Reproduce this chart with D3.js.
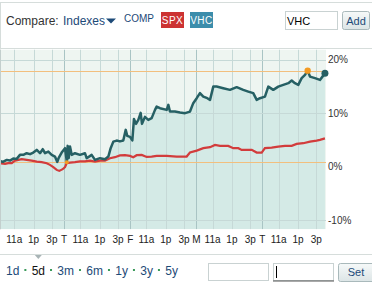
<!DOCTYPE html>
<html>
<head>
<meta charset="utf-8">
<script src="https://cdn.jsdelivr.net/npm/d3@7"></script>
<style>
body { margin: 0; background: #fff; overflow: hidden; }
svg { display: block; font-family: "Liberation Sans", Arial, sans-serif; }
</style>
</head>
<body>
<script>
// data: hours of trading since first open, % change
const dayLabels = ["", "T", "F", "M", "T"]
const hourTicks = [1.6, 3.5, 5.3]
const hourLabels = ["11a", "1p", "3p"]
const pctTicks = [20, 10, 0, -10]
const pctLabels = ["20%", "10%", "0%", "-10%"]

const vhcHours = [0.1, 0.49, 0.86, 1.18, 1.5, 1.84, 2.16, 2.49, 2.82, 3.15, 3.47, 3.81, 4.13, 4.4, 4.62, 4.95,
    5.28, 5.6, 5.83, 5.97, 6.26, 6.59, 6.77, 6.85, 6.95, 7.08, 7.25, 7.57, 8.06, 8.55, 8.72, 9.21, 9.54,
    10.03, 10.52, 10.85, 11.08, 11.34, 11.67, 11.99, 12.32, 12.56, 12.71, 12.98, 13.21, 13.37, 13.57, 13.8,
    14.03, 14.16, 14.45, 14.78, 15.11, 15.44, 15.6, 15.93, 16.59, 16.75, 16.91, 17.4, 17.9, 18.39, 18.88,
    19.2, 19.54, 19.86, 20.19, 20.58, 20.85, 21.17, 21.5, 22.15, 22.81, 23.47, 24.12, 24.61, 25.1, 25.44,
    25.76, 26.25, 26.58, 27.07, 27.56, 28.05, 28.55, 28.88, 29.2, 29.53, 29.86, 30.19, 30.45, 30.68, 31.17,
    31.66, 31.96, 32.15]
const vhcPct = [1.08, 0.9, 1.27, 1.14, 1.51, 1.46, 2.21, 2.21, 2.52, 2.34, 2.64, 3.14, 2.52, 3.27, 2.52, 2.82,
    2.21, 1.89, 0.9, 1.64, 2.64, 3.46, 0.84, 3.89, 1.6, 3.76, 2.21, 2.52, 2.21, 2.52, 1.59, 2.21, 1.27,
    1.59, 1.4, 1.89, 3.46, 4.69, 4.88, 4.73, 4.88, 6.88, 5.76, 5.57, 4.92, 8.93, 8.0, 8.75,
    10.06, 8.0, 9.31, 8.75, 9.07, 10.62, 11.23, 10.93, 10.62, 11.55, 10.3, 10.3, 10.11, 10.0, 10.3,
    11.87, 12.8, 13.74, 13.1, 12.8, 12.49, 14.97, 14.97, 14.67, 14.36, 14.86, 14.36, 14.04, 13.74, 12.49,
    12.8, 13.1, 14.97, 14.36, 14.97, 15.29, 15.61, 16.09, 15.61, 15.29, 16.54, 17.16, 17.95, 16.84, 16.54,
    16.22, 16.97, 17.48]

const spxHours = [0.1, 0.69, 1.01, 1.35, 1.67, 2.0, 2.33, 2.82, 3.31, 3.81, 4.3, 4.79, 5.11, 5.44, 5.77, 6.03,
    6.36, 6.59, 6.75, 7.08, 7.57, 8.06, 8.55, 9.05, 9.54, 10.03, 10.52, 11.01, 11.5, 11.99, 12.49, 12.98,
    13.3, 13.64, 14.13, 14.62, 15.11, 15.6, 16.25, 16.59, 17.57, 18.55, 18.88, 19.54, 20.19, 20.85, 21.34,
    21.83, 22.64, 23.14, 23.63, 23.96, 24.45, 24.95, 25.44, 25.93, 26.25, 26.91, 27.56, 28.22, 28.88, 29.37,
    30.02, 30.68, 31.33, 31.66, 32.15]
const spxPct = [0.65, 0.52, 0.65, 0.65, 1.14, 1.27, 1.4, 1.27, 1.14, 0.95, 0.84, 0.65, 0.34, -0.09, -0.6, -0.79,
    -0.47, -0.09, 0.65, 0.77, 0.84, 0.99, 0.99, 1.14, 0.95, 1.14, 1.14, 1.59, 1.78, 2.11, 2.15, 2.02,
    1.78, 2.15, 2.21, 1.83, 1.89, 2.02, 2.02, 2.02, 1.89, 1.89, 2.64, 3.01, 3.46, 3.64, 4.07,
    3.89, 3.89, 3.46, 3.46, 3.14, 3.14, 3.14, 2.64, 2.64, 3.46, 3.57, 3.76, 3.89, 3.89, 4.26,
    4.39, 4.69, 4.88, 5.01, 5.29]

const periods = ["1d", "5d", "3m", "6m", "1y", "3y", "5y"]
const activePeriod = "5d"

const vhc = vhcHours.map((h, i) => [h, vhcPct[i]])
const spx = spxHours.map((h, i) => [h, spxPct[i]])

const W = 372, H = 282
const plot = { left: 1, right: 326, top: 49.5, bottom: 229.3 }

const svg = d3.select("body").append("svg")
    .attr("width", W)
    .attr("height", H)

// Header bar
svg.append("rect")
    .attr("x", 0.5).attr("y", 2.5)
    .attr("width", W + 2).attr("height", 46)
    .attr("fill", "#fff").attr("stroke", "#d6dddb")

svg.append("text").attr("x", 6).attr("y", 25)
    .style("font-size", "12px").attr("fill", "#333")
    .text("Compare:")
svg.append("text").attr("x", 63).attr("y", 25)
    .style("font-size", "12px").attr("fill", "#1d4a78")
    .text("Indexes")
svg.append("path").attr("d", "M106,18.5L116,18.5L111,23.5Z").attr("fill", "#1d4a78")

svg.append("text").attr("x", 124).attr("y", 22)
    .style("font-size", "10px").attr("fill", "#1d4a78")
    .text("COMP")

const badges = [["SPX", 161, "#cc3333"], ["VHC", 190, "#3c8dab"]]
badges.forEach(b => {
    svg.append("rect").attr("x", b[1]).attr("y", 12).attr("width", 23).attr("height", 16).attr("fill", b[2])
    svg.append("text").attr("x", b[1] + 11.5).attr("y", 24)
        .attr("text-anchor", "middle")
        .style("font-size", "10px").style("letter-spacing", "0.5px").attr("fill", "#fff")
        .text(b[0])
})

svg.append("rect").attr("x", 285.5).attr("y", 11.5).attr("width", 52).attr("height", 18)
    .attr("fill", "#fff").attr("stroke", "#c9d2d2")
svg.append("text").attr("x", 287).attr("y", 24.5)
    .style("font-size", "11px").attr("fill", "#000").text("VHC")

const grad = svg.append("defs").append("linearGradient")
    .attr("id", "btn").attr("x1", 0).attr("x2", 0).attr("y1", 0).attr("y2", 1)
grad.append("stop").attr("offset", "0").attr("stop-color", "#f6f9f9")
grad.append("stop").attr("offset", "1").attr("stop-color", "#dce5e6")

svg.append("rect").attr("x", 342.5).attr("y", 11.5).attr("width", 27).attr("height", 18).attr("rx", 2)
    .attr("fill", "url(#btn)").attr("stroke", "#a9b9bb")
svg.append("text").attr("x", 356).attr("y", 24.5).attr("text-anchor", "middle")
    .style("font-size", "11px").attr("fill", "#1d4a78").text("Add")

// Scales
const x = d3.scaleLinear().domain([0, 32.5]).range([-2, 328.5])
const y = d3.scaleLinear().domain([-11.7, 21.9]).range([plot.bottom, plot.top])

svg.select("defs").append("clipPath").attr("id", "clip")
    .append("rect")
    .attr("x", plot.left).attr("y", plot.top)
    .attr("width", plot.right - plot.left).attr("height", plot.bottom - plot.top)

const chart = svg.append("g").attr("clip-path", "url(#clip)")

chart.append("rect")
    .attr("x", plot.left).attr("y", plot.top)
    .attr("width", plot.right - plot.left).attr("height", plot.bottom - plot.top)
    .attr("fill", "#eef5f1")

chart.append("path")
    .datum(vhc)
    .attr("fill", "#d4eae6")
    .attr("d", d3.area().x(d => x(d[0])).y0(plot.bottom).y1(d => y(d[1])))

// grid
const hourPos = []
const dayPos = []
dayLabels.forEach((lab, d) => {
    dayPos.push({ h: d * 6.5, label: lab })
    hourTicks.forEach((t, i) => hourPos.push({ h: d * 6.5 + t, label: hourLabels[i] }))
})

chart.selectAll(".hgrid")
    .data(hourPos)
    .enter().append("line")
    .attr("x1", d => Math.round(x(d.h)) + 0.5).attr("x2", d => Math.round(x(d.h)) + 0.5)
    .attr("y1", plot.top).attr("y2", plot.bottom)
    .attr("stroke", "#c6d9d7").attr("stroke-width", 1)

chart.selectAll(".dgrid")
    .data(dayPos.filter(d => d.label))
    .enter().append("line")
    .attr("x1", d => Math.round(x(d.h)) + 0.5).attr("x2", d => Math.round(x(d.h)) + 0.5)
    .attr("y1", plot.top).attr("y2", plot.bottom)
    .attr("stroke", "#a9c4c4").attr("stroke-width", 1)

chart.selectAll(".ygrid")
    .data(pctTicks.filter(t => t !== 0))
    .enter().append("line")
    .attr("x1", plot.left).attr("x2", plot.right)
    .attr("y1", d => Math.round(y(d)) + 0.5).attr("y2", d => Math.round(y(d)) + 0.5)
    .attr("stroke", "#c6d9d7")

// high / low lines of VHC
const hi = d3.max(vhcPct), lo = d3.min(vhcPct)
chart.selectAll(".ref")
    .data([hi, lo])
    .enter().append("line")
    .attr("x1", plot.left).attr("x2", plot.right)
    .attr("y1", d => Math.round(y(d)) + 0.5).attr("y2", d => Math.round(y(d)) + 0.5)
    .attr("stroke", "#f2bf7e")

const line = d3.line().x(d => x(d[0])).y(d => y(d[1]))

chart.append("path").datum(spx)
    .attr("fill", "none").attr("stroke", "#d23c3c").attr("stroke-width", 2.2)
    .attr("d", line)

chart.append("path").datum(vhc)
    .attr("fill", "none").attr("stroke", "#266064").attr("stroke-width", 2.5)
    .attr("stroke-linejoin", "round")
    .attr("d", line)

// left edge of plot
svg.append("line").attr("x1", 0.5).attr("x2", 0.5).attr("y1", plot.top).attr("y2", plot.bottom)
    .attr("stroke", "#c3cfcd")

// markers
const hiPt = vhc[vhcPct.indexOf(hi)]
const loPt = vhc[vhcPct.indexOf(lo)]
svg.append("circle").attr("cx", x(hiPt[0])).attr("cy", y(hiPt[1])).attr("r", 3.2).attr("fill", "#f39a22")
svg.append("circle").attr("cx", x(loPt[0])).attr("cy", y(loPt[1])).attr("r", 2).attr("fill", "#f39a22")
const last = vhc[vhc.length - 1]
svg.append("circle").attr("cx", x(last[0])).attr("cy", y(last[1])).attr("r", 3.5).attr("fill", "#266064")

// y labels
svg.selectAll(".ylab")
    .data(pctTicks)
    .enter().append("text")
    .attr("x", 328).attr("y", d => y(d)).attr("dy", "0.35em")
    .style("font-size", "10px").attr("fill", "#333")
    .text((d, i) => pctLabels[i])

// x labels
svg.selectAll(".xlab")
    .data(hourPos.concat(dayPos.filter(d => d.label)).filter(d => x(d.h) < plot.right))
    .enter().append("text")
    .attr("x", d => x(d.h)).attr("y", 243)
    .attr("text-anchor", "middle")
    .style("font-size", "10px").attr("fill", "#222")
    .text(d => d.label)

// bottom bar
svg.append("line").attr("x1", 0).attr("x2", W).attr("y1", 254.5).attr("y2", 254.5).attr("stroke", "#d6dddb")

let px = 6
periods.forEach((p, i) => {
    const t = svg.append("text").attr("x", px).attr("y", 275)
        .style("font-size", "12px")
        .attr("fill", p === activePeriod ? "#111" : "#1d4a78")
        .text(p)
    const w = t.node().getComputedTextLength()
    if (p === activePeriod) {
        svg.append("path")
            .attr("d", `M${px + w / 2 - 3.5},255L${px + w / 2 + 3.5},255L${px + w / 2},259Z`)
            .attr("fill", "#a9b4b6")
    }
    px += w
    if (i < periods.length - 1) {
        svg.append("rect").attr("x", px + 5).attr("y", 269).attr("width", 2).attr("height", 2).attr("fill", "#3a9a5a")
        px += 12.3
    }
})

svg.append("rect").attr("x", 208.5).attr("y", 263.5).attr("width", 60).attr("height", 17)
    .attr("fill", "#fff").attr("stroke", "#c9d2d2")
svg.append("rect").attr("x", 273.5).attr("y", 263.5).attr("width", 60).attr("height", 17)
    .attr("fill", "#fff").attr("stroke", "#c9d2d2")
svg.append("line").attr("x1", 273).attr("x2", 334).attr("y1", 281).attr("y2", 281).attr("stroke", "#555")
svg.append("line").attr("x1", 276.5).attr("x2", 276.5).attr("y1", 266).attr("y2", 278).attr("stroke", "#000")

svg.append("rect").attr("x", 338.5).attr("y", 263.5).attr("width", 36).attr("height", 18).attr("rx", 2)
    .attr("fill", "url(#btn)").attr("stroke", "#a9b9bb")
svg.append("text").attr("x", 356).attr("y", 276).attr("text-anchor", "middle")
    .style("font-size", "11px").attr("fill", "#1d4a78").text("Set")
</script>
</body>
</html>
